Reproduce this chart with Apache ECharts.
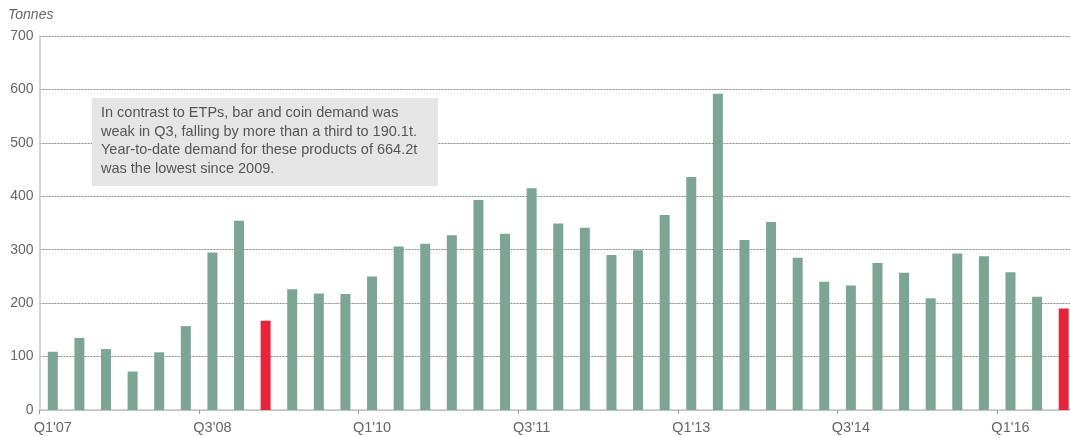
<!DOCTYPE html>
<html><head><meta charset="utf-8">
<script src="https://cdn.jsdelivr.net/npm/echarts@6/dist/echarts.min.js"></script>
<style>html,body{margin:0;padding:0;background:#fff;overflow:hidden}#c{width:1077px;height:436px}</style>
</head><body><div id="c"></div>
<script>
const categories = [
 "Q1'07","Q2'07","Q3'07","Q4'07","Q1'08","Q2'08","Q3'08","Q4'08",
 "Q1'09","Q2'09","Q3'09","Q4'09","Q1'10","Q2'10","Q3'10","Q4'10",
 "Q1'11","Q2'11","Q3'11","Q4'11","Q1'12","Q2'12","Q3'12","Q4'12",
 "Q1'13","Q2'13","Q3'13","Q4'13","Q1'14","Q2'14","Q3'14","Q4'14",
 "Q1'15","Q2'15","Q3'15","Q4'15","Q1'16","Q2'16","Q3'16"];
const demand = [109,135,114,72,108,157,295,354,
 167,226,218,217,250,306,311,327,
 393,330,415,349,341,290,299,365,
 436,592,318,352,285,240,233,275,
 257,209,293,288,258,212,190.1];
const highlighted = ["Q1'09","Q3'16"];
const yTicks = [0,100,200,300,400,500,600,700];
const annotation = ["In contrast to ETPs, bar and coin demand was",
 "weak in Q3, falling by more than a third to 190.1t.",
 "Year-to-date demand for these products of 664.2t",
 "was the lowest since 2009."];

const chart = echarts.init(document.getElementById('c'), null, {renderer:'canvas'});
const FONT = '"Liberation Sans", Arial, sans-serif';
chart.setOption({
  animation:false,
  grid:{left:39.5,right:0,top:36,bottom:26,containLabel:false},
  xAxis:{type:'category',data:categories,
    axisLine:{lineStyle:{color:'#c8c8c8',width:1.5}},
    axisTick:{show:true,length:4,lineStyle:{color:'#999'}},
    axisLabel:{interval:5,color:'#666',fontSize:14.5,fontFamily:FONT,margin:10}},
  yAxis:{type:'value',min:yTicks[0],max:yTicks[yTicks.length-1],interval:100,
    axisLine:{show:true,lineStyle:{color:'#c8c8c8',width:1.5}},
    axisTick:{show:false},
    axisLabel:{color:'#666',fontSize:14,fontFamily:FONT,margin:6},
    splitLine:{lineStyle:{color:'#8a8a8a',type:[2,1],width:1}}},
  graphic:[
    {type:'text',left:8,top:8,style:{text:'Tonnes',font:'italic 14px '+FONT,fill:'#666'}},
    {type:'rect',shape:{x:92,y:98,width:346,height:88},style:{fill:'#e5e5e5'},z:10},
    {type:'text',x:101,y:104,z:11,style:{text:annotation.join('\n'),font:'14.5px '+FONT,fill:'#555',lineHeight:18.5}}
  ],
  series:[{type:'bar',barWidth:10,
    data:demand.map((v,i)=>({value:v,itemStyle:{color: highlighted.includes(categories[i])?'#e8243a':'#7da594'}}))}]
});
</script></body></html>
